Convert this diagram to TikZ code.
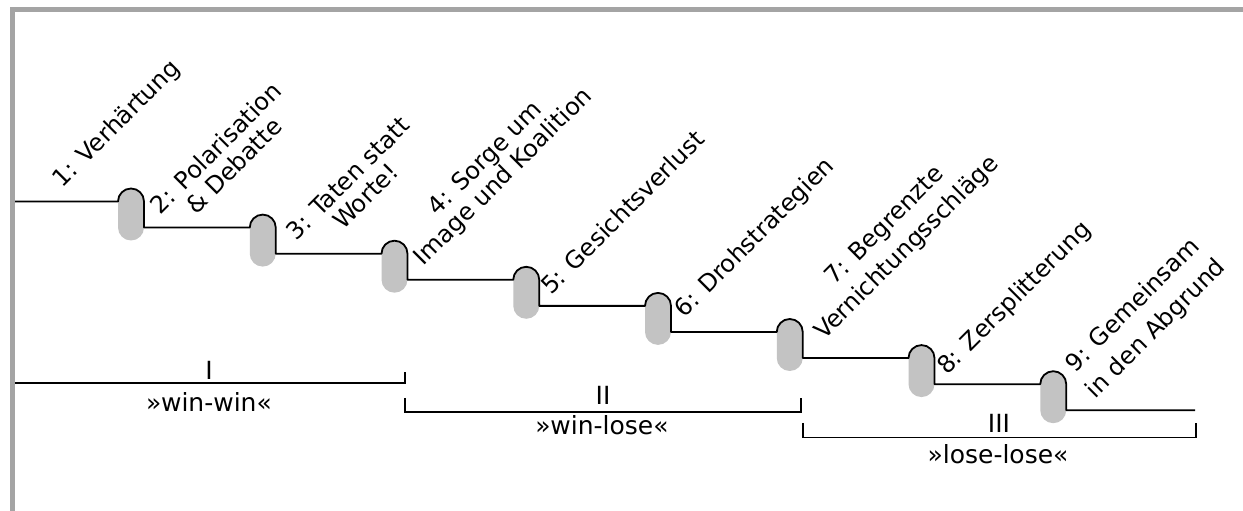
\documentclass[tikz,border=0pt]{standalone}
\usepackage{fontspec}
\setmainfont{DejaVu Sans}
\usetikzlibrary{calc}
\definecolor{framegray}{HTML}{A4A4A4}
\definecolor{pillgray}{HTML}{C3C3C3}
\begin{document}
\begin{tikzpicture}[x=1pt,y=1pt,
  pill/.style={fill=pillgray, draw=none, minimum width=26pt, minimum height=52pt, rounded corners=13pt, inner sep=0pt, outer sep=0pt},
  stepline/.style={line width=1.8pt, black, line join=round},
  bracket/.style={line width=1.6pt, black},
  stage/.style={rotate=45, anchor=base, align=center, inner sep=0pt, font=\fontsize{24}{25.5}\selectfont},
  lbl/.style={anchor=base, inner sep=0pt, font=\fontsize{25}{25}\selectfont},
]
\useasboundingbox (0,0) rectangle (1243,511);
\fill[white] (0,0) rectangle (1243,511);

% pills
\foreach \i in {1,...,8} {
  \node[pill] (p\i) at ({131+131.75*(\i-1)}, {296.5-26.1*(\i-1)}) {};
  \coordinate (a\i) at ($(p\i.north west)+(0,-13)$);
}
\coordinate (s) at (13,309.5);
\coordinate (e) at (1195,100.7);

% step line
\draw[stepline] (s) -- (a1)
  arc[start angle=180,end angle=0,radius=13] |- (a2)
  arc[start angle=180,end angle=0,radius=13] |- (a3)
  arc[start angle=180,end angle=0,radius=13] |- (a4)
  arc[start angle=180,end angle=0,radius=13] |- (a5)
  arc[start angle=180,end angle=0,radius=13] |- (a6)
  arc[start angle=180,end angle=0,radius=13] |- (a7)
  arc[start angle=180,end angle=0,radius=13] |- (a8)
  arc[start angle=180,end angle=0,radius=13] |- (e);

% stage labels (anchor = centre of the last line's baseline)
\node[stage] (t1) at (122,382) {1: Verhärtung};
\node[stage] (t2) at (240,339) {2: Polarisation\\ \& Debatte};
\node[stage] (t3) at (371.7,308.6) {3: Taten statt\\Worte!};
\node[stage] (t4) at (508.5,329) {4: Sorge um\\Image und Koalition};
\node[stage] (t5) at (628.5,292.5) {5: Gesichtsverlust};
\node[stage] (t6) at (759.9,267.9) {6: Drohstrategien};
\node[stage] (t7) at (912,258) {7: Begrenzte\\[6pt]Vernichtungsschläge};
\node[stage] (t8) at (1019.5,207.5) {8: Zersplitterung};
\node[stage] (t9) at (1161.3,177.3) {9: Gemeinsam\\[7.5pt]in den Abgrund};

% bracket I
\coordinate (b1s) at (13,128);
\coordinate (b1e) at (405,128);
\coordinate (b1t) at (405,139);
\draw[bracket] (b1s) -- (b1e) -- (b1t);
\node[lbl] (n1) at (209,131) {I};
\node[lbl] (w1) at (209,99) {»win-win«};

% bracket II
\coordinate (b2a) at (405,113);
\coordinate (b2b) at (405,99);
\coordinate (b2c) at (801,99);
\coordinate (b2d) at (801,113);
\draw[bracket] (b2a) -- (b2b) -- (b2c) -- (b2d);
\node[lbl] (n2) at (603,106) {II};
\node[lbl] (w2) at (602,76) {»win-lose«};

% bracket III
\coordinate (b3a) at (803,88);
\coordinate (b3b) at (803,73.5);
\coordinate (b3c) at (1196,73.5);
\coordinate (b3d) at (1196,88);
\draw[bracket] (b3a) -- (b3b) -- (b3c) -- (b3d);
\node[lbl] (n3) at (999,78) {III};
\node[lbl] (w3) at (998,47) {»lose-lose«};

% frame
\draw[framegray, line width=5pt, line join=miter] (12.5,0) -- (12.5,501) -- (1243,501);
\end{tikzpicture}
\end{document}
